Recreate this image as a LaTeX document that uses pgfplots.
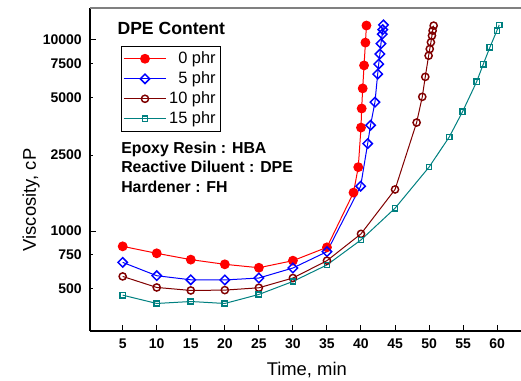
\documentclass[border=0pt]{standalone}
\usepackage{fontspec}
\setmainfont{Liberation Sans}
\usepackage{pgfplots}
\pgfplotsset{compat=1.18}
\definecolor{cRed}{RGB}{255,0,0}
\definecolor{cBlue}{RGB}{0,0,255}
\definecolor{cMaroon}{RGB}{128,0,0}
\definecolor{cTeal}{RGB}{0,128,128}
\begin{document}
\begin{tikzpicture}
\useasboundingbox (-67.5pt,-36.75pt) rectangle (323.25pt,248.25pt);
\begin{axis}[
  at={(0pt,0pt)}, anchor=south west,
  scale only axis, width=323.25pt, height=242.25pt,
  xmin=0.2, xmax=63.5, ymode=log, ymin=300, ymax=14700,
  axis x line*=bottom, axis y line*=left,
  axis line style={-, line width=1.1pt, black},
  tick align=inside, tick style={black, line width=0.75pt},
  major tick length=4.8pt,
  yminorticks=false, xminorticks=false,
  xtick={5,10,...,60},
  /pgf/number format/assume math mode=true,
  x tick label style={font=\bfseries\fontsize{10.5}{12}\selectfont, yshift=-2.5pt},
  ytick={1000,10000}, yticklabels={1000,10000},
  extra y ticks={500,750,2500,5000,7500},
  extra y tick labels={500,750,2500,5000,7500},
  extra y tick style={major tick length=2.25pt},
  y tick label style={font=\bfseries\fontsize{10.5}{12}\selectfont, xshift=-2.7pt},
  xlabel={Time, min},
  xlabel style={font=\fontsize{13.8}{16}\selectfont, at={(axis description cs:0.503,-0.1393)}, anchor=base},
  ylabel={Viscosity, cP},
  ylabel style={font=\fontsize{13.8}{16}\selectfont, at={(axis description cs:-0.1369,0.4056)}, anchor=center},
  legend style={at={(axis description cs:0.0719,0.8824)}, anchor=north west, draw=black, line width=0.75pt,
    font=\fontsize{12.3}{14}\selectfont, cells={anchor=east}, row sep=0.6pt, inner xsep=1.5pt, inner ysep=2pt},
  legend image code/.code={\draw[mark repeat=2,mark phase=2] plot coordinates {(0pt,0pt)(15.75pt,0pt)(31.5pt,0pt)};},
  clip=false,
]
\addplot[cRed, line width=0.75pt, mark=*, mark size=3.3pt, mark options={solid, fill=cRed}] coordinates {
 (5,832) (10,765) (15,709) (20,670) (25,643) (30,700) (35,822) (38.9,1590) (39.6,2160)
 (40.0,3480) (40.1,4380) (40.25,5580) (40.45,7360) (40.65,9690) (40.8,11900)};
\addlegendentry{0 phr}
\addplot[cBlue, line width=0.75pt, mark=square, mark size=2.5pt, mark options={solid, rotate=45, line width=1.1pt}] coordinates {
 (5,686) (10,584) (15,556) (20,555) (25,568) (30,641) (35,780) (39.95,1718) (40.98,2869)
 (41.4,3580) (42.05,4725) (42.45,6630) (42.6,7480) (42.78,8444) (42.93,9564) (43.12,10715) (43.2,11330) (43.3,11990)};
\addlegendentry{5 phr}
\addplot[cMaroon, line width=0.75pt, mark=o, mark size=2.7pt, mark options={solid, line width=1.1pt}] coordinates {
 (5,579) (10,507) (15,489) (20,491) (25,505) (30,568) (35,700) (40,967) (45,1651)
 (48.17,3698) (49.0,5040) (49.44,6412) (49.93,8274) (50.1,8970) (50.27,9727) (50.42,10535) (50.52,11190) (50.67,11885)};
\addlegendentry{10 phr}
\addplot[cTeal, line width=0.75pt, mark=square, mark size=2pt, mark options={solid, line width=1.1pt}] coordinates {
 (5,462) (10,418) (15,428) (20,418) (25,466) (30,545) (35,665) (40,899) (45,1317)
 (50,2163) (52.96,3108) (54.9,4204) (56.98,6040) (57.95,7456) (58.93,9155) (59.96,11190) (60.3,11990)};
\addlegendentry{15 phr}
\draw[gray, line width=1.5pt] (rel axis cs:0,1) -- (rel axis cs:1,1);
\node[anchor=base west, inner sep=0pt, font=\bfseries\fontsize{13.2}{15}\selectfont] at (rel axis cs:0.0633,0.9164) {DPE Content};
\node[anchor=base west, inner sep=0pt, font=\bfseries\fontsize{11.9}{14}\selectfont] at (rel axis cs:0.0719,0.548) {Epoxy Resin : HBA};
\node[anchor=base west, inner sep=0pt, font=\bfseries\fontsize{11.9}{14}\selectfont] at (rel axis cs:0.0719,0.4898) {Reactive Diluent : DPE};
\node[anchor=base west, inner sep=0pt, font=\bfseries\fontsize{11.9}{14}\selectfont] at (rel axis cs:0.0719,0.4303) {Hardener : FH};
\end{axis}
\end{tikzpicture}
\end{document}
